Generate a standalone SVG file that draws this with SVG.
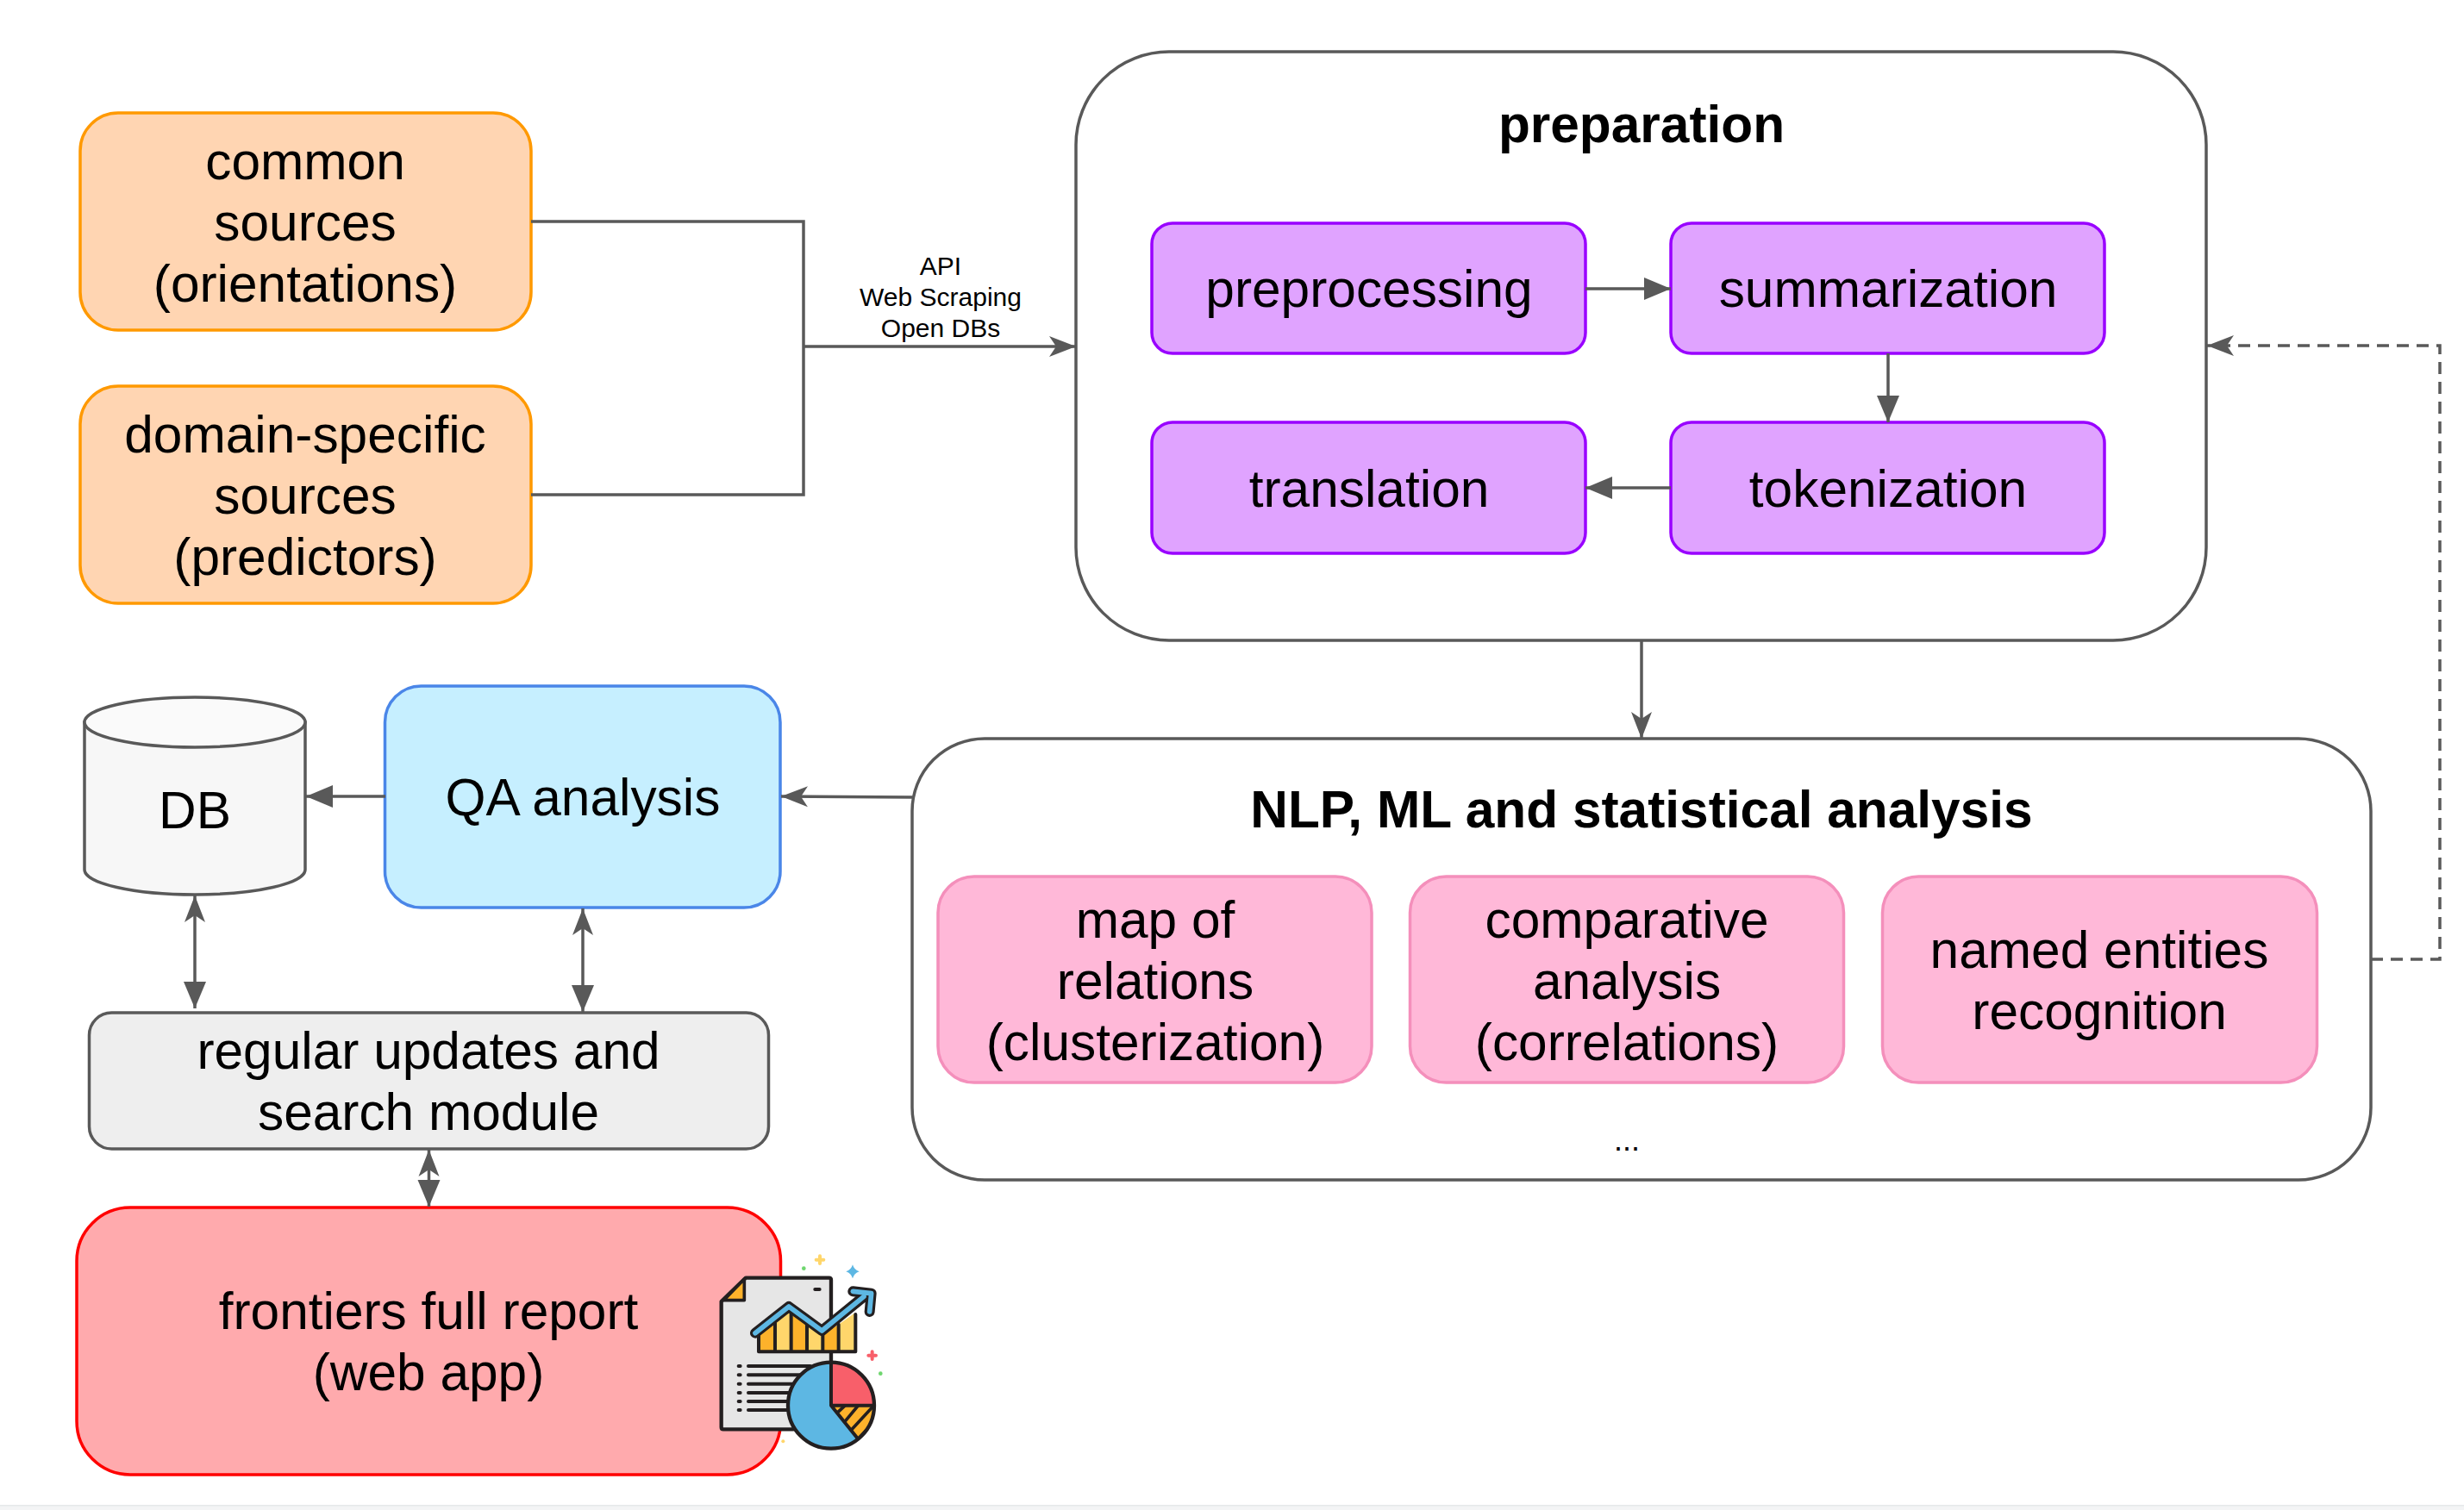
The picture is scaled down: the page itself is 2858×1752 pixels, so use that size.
<svg xmlns="http://www.w3.org/2000/svg" width="2858" height="1752" viewBox="0 0 2858 1752">
<style>
text{font-family:"Liberation Sans",Arial,sans-serif;fill:#000;text-anchor:middle}
.t{font-size:60.4px}
.b{font-size:60.4px;font-weight:bold}
.s{font-size:30px}
.box{stroke-width:3.5}
.orange{fill:#ffd5b2;stroke:#ff9900}
.purple{fill:#e0a3ff;stroke:#9900ff}
.pink{fill:#ffb8d8;stroke:#f48fbb}
.group{fill:#fff;stroke:#595959}
.c{fill:none;stroke:#595959;stroke-width:3.500}
.d{stroke-dasharray:14 9}
.k{fill:none;stroke:#231f20;stroke-linecap:round;stroke-linejoin:round}
</style>
<defs>
<marker id="open" markerUnits="userSpaceOnUse" markerWidth="34" markerHeight="28" refX="31" refY="14" orient="auto-start-reverse"><path d="M0,2 L31,14 L0,26 L8,14 Z" fill="#595959"/></marker>
<marker id="block" markerUnits="userSpaceOnUse" markerWidth="34" markerHeight="28" refX="31" refY="14" orient="auto-start-reverse"><path d="M0,1 L31,14 L0,27 Z" fill="#595959"/></marker>
<clipPath id="hatch"><path d="M492,602 L642,602 A150,150 0 0 1 585,718 Z"/></clipPath>
</defs>
<rect width="2858" height="1752" fill="#fff"/>
<rect y="1746" width="2858" height="6" fill="#f3f4f5"/>
<rect y="1746" width="2858" height="1.5" fill="#e6e8ea"/>

<g id="node-common"><rect class="box orange" x="93" y="131" width="523" height="252" rx="44"/><text class="t" x="354" y="208">common</text><text class="t" x="354" y="279">sources</text><text class="t" x="354" y="350">(orientations)</text></g>
<g id="node-domain"><rect class="box orange" x="93" y="448" width="523" height="252" rx="44"/><text class="t" x="354" y="525">domain-specific</text><text class="t" x="354" y="596">sources</text><text class="t" x="354" y="667">(predictors)</text></g>

<g id="node-preparation"><rect class="box group" x="1248" y="60" width="1311" height="683" rx="108"/><text class="b" x="1904" y="165">preparation</text></g>
<g id="node-preprocessing"><rect class="box purple" x="1336" y="259" width="503" height="151" rx="24"/><text class="t" x="1588" y="356">preprocessing</text></g>
<g id="node-summarization"><rect class="box purple" x="1938" y="259" width="503" height="151" rx="24"/><text class="t" x="2190" y="356">summarization</text></g>
<g id="node-translation"><rect class="box purple" x="1336" y="490" width="503" height="152" rx="24"/><text class="t" x="1588" y="588">translation</text></g>
<g id="node-tokenization"><rect class="box purple" x="1938" y="490" width="503" height="152" rx="24"/><text class="t" x="2190" y="588">tokenization</text></g>

<g id="node-nlp"><rect class="box group" x="1058" y="857" width="1692" height="512" rx="84"/><text class="b" x="1904" y="960">NLP, ML and statistical analysis</text><text font-size="36" x="1887" y="1335">...</text></g>
<g id="node-map"><rect class="box pink" x="1088" y="1017" width="503" height="239" rx="42"/><text class="t" x="1340" y="1088">map of</text><text class="t" x="1340" y="1159">relations</text><text class="t" x="1340" y="1230">(clusterization)</text></g>
<g id="node-comparative"><rect class="box pink" x="1635.500" y="1017" width="503" height="239" rx="42"/><text class="t" x="1887" y="1088">comparative</text><text class="t" x="1887" y="1159">analysis</text><text class="t" x="1887" y="1230">(correlations)</text></g>
<g id="node-ner"><rect class="box pink" x="2183.500" y="1017" width="504" height="239" rx="42"/><text class="t" x="2435" y="1123">named entities</text><text class="t" x="2435" y="1194">recognition</text></g>

<g id="node-db"><path d="M98,838 V1009 A128,29 0 0 0 354,1009 V838 Z" fill="#f7f7f7" stroke="#595959" stroke-width="3.500"/><ellipse cx="226" cy="838" rx="128" ry="29" fill="#fafafa" stroke="#595959" stroke-width="3.500"/><text class="t" x="226" y="961">DB</text></g>
<g id="node-qa"><rect class="box" x="446.500" y="796" width="458.500" height="257" rx="42" fill="#c6efff" stroke="#4a86e8"/><text class="t" x="676" y="946">QA analysis</text></g>
<g id="node-updates"><rect class="box" x="103.500" y="1175" width="788" height="158" rx="26" fill="#eeeeee" stroke="#595959"/><text class="t" x="497" y="1240">regular updates and</text><text class="t" x="497" y="1311">search module</text></g>
<g id="node-report"><rect class="box" x="89" y="1401" width="816.500" height="310" rx="62" fill="#ffaaad" stroke="#ff0000"/><text class="t" x="497" y="1542">frontiers full report</text><text class="t" x="497" y="1613">(web app)</text></g>

<g id="connectors">
<path class="c" d="M616,257 H932 V574 H616"/>
<path class="c" d="M932,402 H1248" marker-end="url(#open)"/>
<path class="c" d="M1839,335 H1938" marker-end="url(#block)"/>
<path class="c" d="M2190,410 V490" marker-end="url(#block)"/>
<path class="c" d="M1938,566 H1839" marker-end="url(#block)"/>
<path class="c" d="M1904,743 V857" marker-end="url(#open)"/>
<path class="c" d="M1058,925 L906,924" marker-end="url(#open)"/>
<path class="c" d="M447,924 H355" marker-end="url(#block)"/>
<path class="c" d="M226,1039 V1170" marker-start="url(#open)" marker-end="url(#block)"/>
<path class="c" d="M676,1054 V1174" marker-start="url(#open)" marker-end="url(#block)"/>
<path class="c" d="M497.500,1334 V1400" marker-start="url(#open)" marker-end="url(#block)"/>
<path class="c d" d="M2750,1113 H2830 V401 H2560" marker-end="url(#open)"/>
<text class="s" x="1091" y="319">API</text>
<text class="s" x="1091" y="355">Web Scraping</text>
<text class="s" x="1091" y="391">Open DBs</text>
</g>

<g id="node-icon" transform="translate(800,1430) scale(0.3333)">
<path d="M195,158 H485 Q492,158 492,165 V620 H400 L360,685 H117 Q110,685 110,678 V240 Z" fill="#e6e6e6" stroke="#231f20" stroke-width="13" stroke-linejoin="round"/>
<path d="M190,162 L118,236 H190 Z" fill="#fdb22b" stroke="#231f20" stroke-width="11" stroke-linejoin="round"/>
<path class="k" stroke-width="12" d="M436,198 H452"/>
<path class="k" stroke-width="12" d="M170,465 H176 M170,496 H176 M170,527 H176 M170,558 H176 M170,588 H176 M170,618 H176 M204,465 H420 M204,496 H400 M204,527 H380 M204,558 H360 M204,588 H350 M204,618 H345"/>
<path d="M240,345 L297,300 V415 H240 Z" fill="#fdb22b"/>
<path d="M297,300 L353,265 V415 H297 Z" fill="#ffd66b"/>
<path d="M353,265 L408,315 V415 H353 Z" fill="#fdb22b"/>
<path d="M408,315 L463,355 V415 H408 Z" fill="#ffd66b"/>
<path d="M463,355 L518,320 V415 H463 Z" fill="#fdb22b"/>
<path d="M518,320 L575,280 V415 H518 Z" fill="#ffd66b"/>
<path class="k" stroke-width="12" d="M240,345 V415 H577 V285 M297,300 V415 M353,270 V415 M408,315 V415 M463,350 V415 M518,320 V415"/>
<path class="k" stroke-width="36" d="M228,350 L345,258 L460,342 L600,228 M568,205 L632,212 L626,276"/>
<path fill="none" stroke="#5db7e3" stroke-width="17" stroke-linecap="round" stroke-linejoin="round" d="M228,350 L345,258 L460,342 L606,223 M568,205 L632,212 L626,276"/>
<circle cx="492" cy="602" r="150" fill="#5db7e3"/>
<path d="M492,602 V452 A150,150 0 0 1 642,602 Z" fill="#f85f6a"/>
<path d="M492,602 L642,602 A150,150 0 0 1 585,718 Z" fill="#fdb22b"/>
<g clip-path="url(#hatch)"><path stroke="#231f20" stroke-width="11" fill="none" d="M500,640 L545,598 M530,670 L590,598 M555,695 L645,598 M580,725 L650,650"/></g>
<circle cx="492" cy="602" r="150" fill="none" stroke="#231f20" stroke-width="13"/>
<path class="k" stroke-width="12" d="M492,452 V602 H642 M492,602 L585,718"/>
<path d="M567,112 Q572,130 590,136 Q572,142 567,160 Q562,142 544,136 Q562,130 567,112 Z" fill="#5db7e3"/>
<path stroke="#ffd66b" stroke-width="12" stroke-linecap="round" fill="none" d="M453,82 V108 M440,95 H466"/>
<path stroke="#f85f6a" stroke-width="12" stroke-linecap="round" fill="none" d="M635,415 V441 M622,428 H648"/>
<circle cx="397" cy="125" r="7" fill="#6fd66f"/>
<circle cx="664" cy="491" r="7" fill="#6fd66f"/>
<circle cx="325" cy="727" r="6" fill="#ffd66b"/>
</g>
</svg>
